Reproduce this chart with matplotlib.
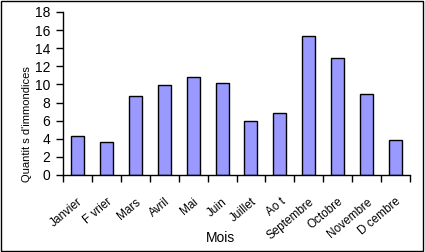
import matplotlib.pyplot as plt
import numpy as np

mois = ['Janvier', 'F vrier', 'Mars', 'Avril', 'Mai', 'Juin', 'Juillet',
        'Ao t', 'Septembre', 'Octobre', 'Novembre', 'D cembre']
valeurs = [4.3, 3.6, 8.7, 9.9, 10.8, 10.2, 6.0, 6.9, 15.4, 12.9, 8.9, 3.9]

plt.rcParams['font.family'] = ['Liberation Sans', 'DejaVu Sans']

fig = plt.figure(figsize=(4.25, 2.52), dpi=100)
ax = fig.add_axes([63/425, 1-175/252, (410-63)/425, (175-12)/252])

x = np.arange(len(mois))
ax.bar(x, valeurs, width=0.45, color='#9999FF', edgecolor='black', linewidth=1)

ax.set_xlim(-0.5, len(mois) - 0.5)
ax.set_ylim(0, 18)
ax.set_yticks(range(0, 19, 2))
ax.set_xticks(x)
ax.set_xticklabels(mois, rotation=40, ha='right', va='top',
                   rotation_mode='anchor', fontsize=8.5)
ax.set_xticks(np.arange(-0.5, len(mois)), minor=True)
ax.tick_params(axis='x', which='major', length=0, pad=15)
ax.tick_params(axis='x', which='minor', length=5, width=1, direction='out')
ax.tick_params(axis='y', length=5, width=1, direction='out', labelsize=10, pad=4)

for s in ['top', 'right']:
    ax.spines[s].set_visible(False)
for s in ['left', 'bottom']:
    ax.spines[s].set_linewidth(1)

fig.text(220/425, 1-238/252, 'Mois', ha='center', va='center', fontsize=10)
fig.text(27/425, 1-124/252, "Quantit s d'immondices", rotation=90,
         ha='center', va='center', fontsize=8)

fig.patches.append(plt.Rectangle((0.002, 0.004), 0.994, 0.992,
                                 transform=fig.transFigure, fill=False,
                                 edgecolor='black', linewidth=1))

fig.savefig('out.png', dpi=100)
